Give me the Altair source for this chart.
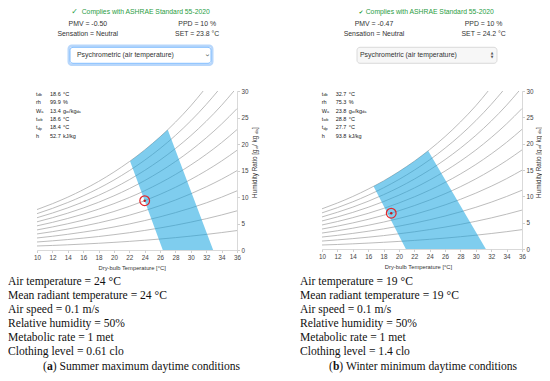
import altair as alt
import pandas as pd

# ---------------- data ----------------
T_GRID = [10, 12, 14, 16, 18, 20, 22, 24, 26, 28, 30, 32, 34, 36]
RH_W = {
    10: [0.76, 0.86, 0.98, 1.12, 1.27, 1.44, 1.63, 1.84, 2.07, 2.33, 2.62, 2.94, 3.29, 3.67],
    20: [1.51, 1.73, 1.97, 2.24, 2.54, 2.89, 3.26, 3.69, 4.16, 4.68, 5.26, 5.90, 6.61, 7.39],
    30: [2.27, 2.59, 2.96, 3.37, 3.82, 4.34, 4.91, 5.55, 6.26, 7.05, 7.92, 8.89, 9.97, 11.16],
    40: [3.03, 3.46, 3.95, 4.50, 5.11, 5.80, 6.56, 7.42, 8.37, 9.43, 10.61, 11.92, 13.36, 14.97],
    50: [3.79, 4.34, 4.95, 5.63, 6.40, 7.26, 8.23, 9.30, 10.50, 11.83, 13.32, 14.97, 16.79, 18.82],
    60: [4.56, 5.21, 5.95, 6.77, 7.70, 8.74, 9.90, 11.19, 12.64, 14.25, 16.05, 18.05, 20.26, 22.72],
    70: [5.32, 6.09, 6.95, 7.92, 9.00, 10.22, 11.58, 13.10, 14.80, 16.69, 18.80, 21.16, 23.77, 26.67],
    80: [6.09, 6.97, 7.95, 9.06, 10.31, 11.70, 13.27, 15.02, 16.97, 19.15, 21.58, 24.29, 27.31, 30.66],
    90: [6.86, 7.85, 8.96, 10.21, 11.62, 13.20, 14.97, 16.94, 19.15, 21.62, 24.38, 27.46, 30.88, 34.70],
    100: [7.63, 8.73, 9.97, 11.37, 12.93, 14.70, 16.67, 18.88, 21.35, 24.12, 27.21, 30.65, 34.50, 38.78],
}
TOP_EXIT_T = {80: 35.6, 90: 33.5, 100: 31.6}   # where the curve leaves the top (W = 30)
W_MAX = 30

ZONE_A_T = [22.1, 24, 26, 27.0, 32.9, 26.35]
ZONE_A_W = [16.75, 18.88, 21.35, 22.7, 0, 0]
ZONE_B_T = [16.7, 18, 20, 22, 23.8, 31.3, 20.9]
ZONE_B_W = [11.9, 12.93, 14.70, 16.67, 18.65, 0, 0]
POINT_A = (24, 9.3)
POINT_B = (19, 6.8)

X_TICKS = list(range(10, 37, 2))
Y_TICKS = [0, 5, 10, 15, 20, 25, 30]
X_TITLE = "Dry-bulb Temperature [°C]"

COMPLY = "Complies with ASHRAE Standard 55-2020"
PMV = ["PMV = -0.50", "PMV = -0.47"]
PPD = ["PPD = 10 %", "PPD = 10 %"]
SENS = ["Sensation = Neutral", "Sensation = Neutral"]
SET = ["SET = 23.8 °C", "SET = 24.2 °C"]
DROPDOWN = "Psychrometric (air temperature)"

INFO_VALUES_A = ["18.6", "99.9", "13.4", "18.6", "18.4", "52.7"]
INFO_VALUES_B = ["32.7", "75.3", "23.8", "28.8", "27.7", "93.8"]

COND_A = ["Air temperature = 24 °C", "Mean radiant temperature = 24 °C", "Air speed = 0.1 m/s",
          "Relative humidity = 50%", "Metabolic rate = 1 met", "Clothing level = 0.61 clo"]
COND_B = ["Air temperature = 19 °C", "Mean radiant temperature = 19 °C", "Air speed = 0.1 m/s",
          "Relative humidity = 50%", "Metabolic rate = 1 met", "Clothing level = 1.4 clo"]
CAP_A = ("a", ") Summer maximum daytime conditions")
CAP_B = ("b", ") Winter minimum daytime conditions")

# ---------------- tables ----------------
rows = []
for rh, ws in RH_W.items():
    for t, w in zip(T_GRID, ws):
        if w <= W_MAX:
            rows.append({"rh": rh, "T": t, "W": w})
    if rh in TOP_EXIT_T:
        rows.append({"rh": rh, "T": TOP_EXIT_T[rh], "W": W_MAX})
curves = pd.DataFrame(rows)

SANS = "Liberation Sans"
SERIF = "Liberation Serif"


def panel(zt, zw, pt, x_range, y_range, x_off, y_off, title_x):
    xs = alt.Scale(domain=[10, 36], range=x_range, nice=False, zero=False)
    ys = alt.Scale(domain=[0, 30], range=y_range, nice=False, zero=False)
    xax = alt.Axis(orient="bottom", offset=x_off, values=X_TICKS, title=X_TITLE,
                   titleX=title_x, titleY=17.5, titleBaseline="middle", titleAlign="center")
    yax = alt.Axis(orient="right", offset=y_off, values=Y_TICKS, title=None)
    X = alt.X("T:Q", scale=xs, axis=xax)
    Y = alt.Y("W:Q", scale=ys, axis=yax)
    lines = alt.Chart(curves).mark_line(color="#ababab", strokeWidth=0.8, interpolate="monotone").encode(
        x=X, y=Y, detail="rh:N")
    zone_df = pd.DataFrame({"T": zt, "W": zw, "i": list(range(len(zt)))})
    zone = alt.Chart(zone_df).mark_line(fill="#16A4E0", fillOpacity=0.55, strokeOpacity=0,
                                        interpolate="linear").encode(x=X, y=Y, order="i:Q")
    pdf = pd.DataFrame({"T": [pt[0]], "W": [pt[1]]})
    ring = alt.Chart(pdf).mark_point(shape="circle", size=95, filled=False, color="#e3262b",
                                     strokeWidth=1.2, opacity=1).encode(x=X, y=Y)
    dot = alt.Chart(pdf).mark_point(shape="circle", size=6, filled=True, color="#c4161c",
                                    opacity=1).encode(x=X, y=Y)
    return alt.layer(lines, zone, ring, dot)


def txt(s, x, y, size, color="#222", font=SANS, align="left", weight="normal", angle=0,
        baseline="middle"):
    kw = dict(align=align, baseline=baseline, fontSize=size, font=font, color=color,
              fontWeight=weight)
    if angle:
        kw["angle"] = angle
    return alt.Chart(alt.Data(values=[{"s": s}])).mark_text(**kw).encode(
        text="s:N", x=alt.value(x), y=alt.value(y))


def box(x1, x2, y1, y2, fill, stroke, sw, op=1.0):
    return alt.Chart(alt.Data(values=[{"a": 1}])).mark_rect(
        cornerRadius=3, fill=fill, stroke=stroke, strokeWidth=sw, fillOpacity=op).encode(
        x=alt.value(x1), x2=alt.value(x2), y=alt.value(y1), y2=alt.value(y2))


def y_title(x, y0):
    f, fs = 6.4, 4.4
    parts = []
    parts.append(txt("Humidity Ratio [g", x, y0, f, "#333", angle=270))
    y = y0 - 48.7
    parts.append(txt("w", x + 1.8, y, fs, "#333", angle=270))
    y -= 3.2
    parts.append(txt(" / kg", x, y, f, "#333", angle=270))
    y -= 12.1
    parts.append(txt("da", x + 1.8, y, fs, "#333", angle=270))
    y -= 4.9
    parts.append(txt("]", x, y, f, "#333", angle=270))
    return parts


def info(x, values):
    f, fs = 5.5, 3.8
    ys = [86, 94.3, 102.7, 111, 119.3, 127.7]
    vx, ux = x + 14, x + 27
    p = []
    # labels
    p += [txt("t", x, ys[0], f), txt("db", x + 1.7, ys[0] + 1.3, fs)]
    p += [txt("rh", x, ys[1], f)]
    p += [txt("W", x, ys[2], f), txt("a", x + 5.3, ys[2] + 1.3, fs)]
    p += [txt("t", x, ys[3], f), txt("wb", x + 1.7, ys[3] + 1.3, fs)]
    p += [txt("t", x, ys[4], f), txt("dp", x + 1.7, ys[4] + 1.3, fs)]
    p += [txt("h", x, ys[5], f)]
    for v, yy in zip(values, ys):
        p.append(txt(v, vx, yy, f))
    p += [txt("°C", ux, ys[0], f), txt("%", ux, ys[1], f)]
    p += [txt("g", ux, ys[2], f), txt("w", ux + 3.1, ys[2] + 1.3, fs),
          txt("/kg", ux + 6.1, ys[2], f), txt("da", ux + 13.4, ys[2] + 1.3, fs)]
    p += [txt("°C", ux, ys[3], f), txt("°C", ux, ys[4], f), txt("kJ/kg", ux, ys[5], f)]
    return p


pA = panel(ZONE_A_T, ZONE_A_W, POINT_A, [29, 229], [242, 83], -123, 229 - 534, 123.7)
pB = panel(ZONE_B_T, ZONE_B_W, POINT_B, [314, 514], [241, 83], -124, 514 - 534, 410)

layers = [pA, pB]
GREEN = "#2a9d3f"
layers += [txt("✓", 66.5, 3.5, 8, GREEN, font="DejaVu Sans", align="center"),
           txt(COMPLY, 73.7, 3.5, 6.8, GREEN),
           txt("✔", 353, 3.5, 5.5, GREEN, font="DejaVu Sans", align="center"),
           txt(COMPLY, 357.7, 3.5, 6.8, GREEN)]
for cx1, cx2, i in [(79.8, 189.2, 0), (366, 475.6, 1)]:
    layers += [txt(PMV[i], cx1, 16.3, 6.9, "#333", align="center"),
               txt(PPD[i], cx2, 16.3, 6.9, "#333", align="center"),
               txt(SENS[i], cx1, 26, 6.9, "#333", align="center"),
               txt(SET[i], cx2, 26, 6.9, "#333", align="center")]
# dropdowns
layers += [box(60.8, 204.2, 37.8, 56.8, "#ffffff", "#b8d7fb", 2.6),
           box(62, 203, 39.3, 55.3, "#ffffff", "#80bdff", 1),
           txt(DROPDOWN, 69, 47.3, 6.9, "#333"),
           txt("›", 199.3, 47.3, 8, "#444", angle=90, align="center"),
           box(349, 489, 39.3, 55.3, "#f7f7f7", "#d2d2d2", 0.8),
           txt(DROPDOWN, 352, 47.3, 6.9, "#333"),
           txt("▲", 484, 45.4, 3.4, "#555", font="DejaVu Sans", align="center"),
           txt("▼", 484, 49.2, 3.4, "#555", font="DejaVu Sans", align="center")]
layers += info(28, INFO_VALUES_A) + info(313.7, INFO_VALUES_B)
layers += y_title(247, 190) + y_title(530.5, 190)

ROW_Y = [273.5, 288, 302, 316, 330, 344]
for s, yy in zip(COND_A, ROW_Y):
    layers.append(txt(s, 0, yy, 11.6, "#111", font=SERIF))
for s, yy in zip(COND_B, ROW_Y):
    layers.append(txt(s, 292, yy, 11.6, "#111", font=SERIF))
for x0, (b, rest), wb in [(35, CAP_A, 5.8), (321, CAP_B, 6.45)]:
    layers += [txt("(", x0, 358.5, 11.6, "#111", font=SERIF),
               txt(b, x0 + 3.9, 358.5, 11.6, "#111", font=SERIF, weight="bold"),
               txt(rest, x0 + 3.9 + wb, 358.5, 11.6, "#111", font=SERIF)]

chart = alt.layer(*layers).resolve_scale(x="independent", y="independent").properties(
    width=534, height=365, autosize=alt.AutoSizeParams(type="none"), padding=0
).configure_view(stroke=None).configure_axis(
    grid=False, domainColor="#cfcfcf", domainWidth=0.8, tickColor="#cfcfcf", tickSize=2.5,
    labelFont=SANS, labelFontSize=6.3, labelColor="#444", labelPadding=1.5,
    labelFlush=False, labelOverlap=False,
    titleFont=SANS, titleFontSize=5.8, titleFontWeight="normal", titleColor="#333"
)

chart.save("out.html", embed_options={"renderer": "svg", "actions": False})
